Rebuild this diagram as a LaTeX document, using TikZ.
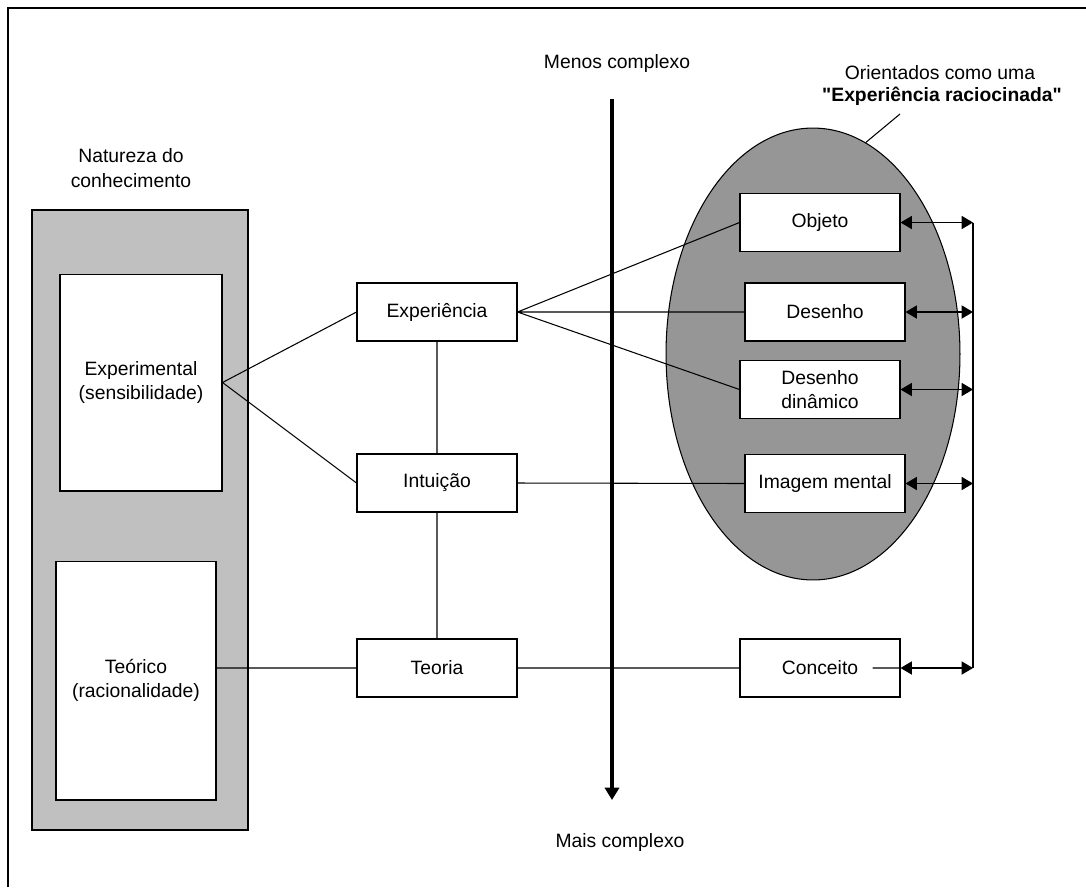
\documentclass[tikz,border=0pt]{standalone}
\usepackage{fontspec}
\setmainfont{Liberation Sans}[Ligatures=TeXOff]
\usetikzlibrary{shapes.geometric, positioning, arrows.meta}

\definecolor{paneGray}{RGB}{192,192,192}
\definecolor{ovalGray}{RGB}{150,150,150}

\begin{document}
\begin{tikzpicture}[x=0.02cm, y=-0.02cm,
        every node/.style={font=\fontsize{11}{14}\selectfont, align=center},
        box/.style={draw, line width=0.6pt, fill=white, minimum width=3.2cm, minimum height=1.16cm, inner sep=1pt},
        tip/.style={line width=0.7pt, {Triangle[length=6.5pt,width=7.5pt]}-{Triangle[length=6.5pt,width=7.5pt]}}]
    \useasboundingbox (0,0) rectangle (1086,887);
    \draw[line width=1.1pt] (8,887) -- (8,8) -- (1086,8);

    % natureza do conhecimento
    \node (natureza) at (131,168) {Natureza do\\conhecimento};
    \node[draw, line width=0.9pt, fill=paneGray, minimum width=4.32cm, minimum height=12.4cm] (pane) at (140,520) {};
    \node[box, minimum width=3.24cm, minimum height=4.34cm] (expm) at (141,382.5) {Experimental\\(sensibilidade)};
    \node[box, minimum height=4.78cm] (teor) at (136,680.5) {Te\'orico\\(racionalidade)};

    % oval
    \node[ellipse, draw, line width=0.6pt, fill=ovalGray, inner sep=0pt, minimum width=5.88cm, minimum height=9.04cm] (oval) at (813,354) {};
    \node (orient) at (940,73) {Orientados como uma};
    \node[font=\fontsize{11}{14}\selectfont\bfseries] (racioc) at (942,96) {"Experi\^encia raciocinada"};
    \coordinate (lead) at (900,114);
    \draw[line width=0.6pt] (oval.76) -- (lead);

    % eixo
    \node (menos) at (617,63) {Menos complexo};
    \node (mais) at (620,842) {Mais complexo};
    \coordinate (top) at (612,99);
    \coordinate (bot) at (612,800);
    \draw[line width=2.8pt, -{Triangle[length=7pt,width=8pt]}] (top) -- (bot);

    % centro
    \node[box] (exper) at (437,312) {Experi\^encia};
    \node[box] (intu) at (437,483) {Intui\c{c}\~ao};
    \node[box] (teoria) at (437,668) {Teoria};

    % direita
    \node[box] (objeto) at (820,222.5) {Objeto};
    \node[box] (desenho) at (825,312) {Desenho};
    \node[box] (dinamico) at (820,389.5) {Desenho\\din\^amico};
    \node[box] (imagem) at (825,483.5) {Imagem mental};
    \node[box] (conceito) at (820,668) {Conceito};

    \draw[line width=0.6pt]
        (expm.east) -- (exper.west)
        (expm.east) -- (intu.west)
        (teoria.west -| teor.east) -- (teoria.west)
        (exper.south) -- (intu.north)
        (intu.south) -- (teoria.north)
        (exper.east) -- (objeto.west)
        (exper.east) -- (desenho.west)
        (exper.east) -- (dinamico.west)
        (intu.east) -- (imagem.west)
        (teoria.east) -- (conceito.west)
        ([xshift=-0.56cm]conceito.east) -- (conceito.east);

    \coordinate (railtop) at (973,222.5);
    \coordinate (railbot) at (973,668);
    \draw[line width=0.7pt] (railtop) -- (railbot);
    \foreach \n in {objeto, desenho, dinamico, imagem, conceito} {
        \draw[tip] (\n.east) -- (\n.east -| railtop);
    }
\end{tikzpicture}
\end{document}
